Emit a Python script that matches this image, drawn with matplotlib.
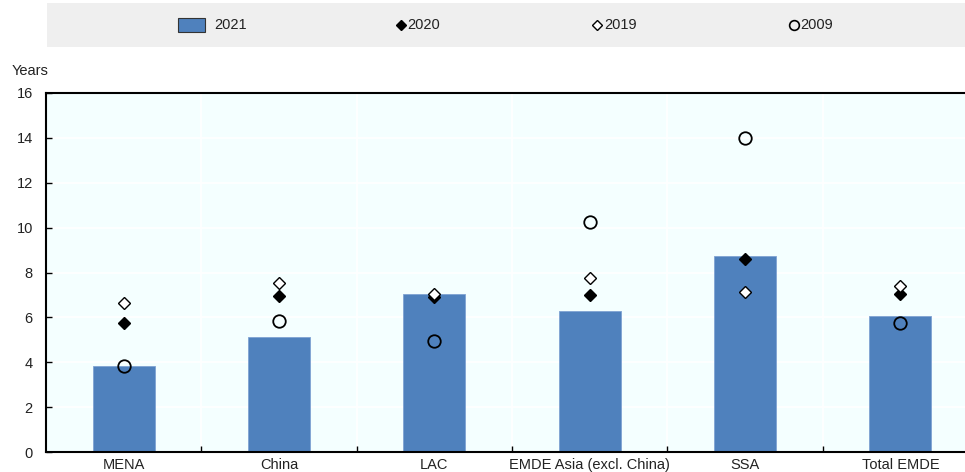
import matplotlib
matplotlib.use("Agg")
import matplotlib.pyplot as plt
from matplotlib.ticker import FixedLocator, NullFormatter

plt.rcParams['font.family'] = ['Liberation Sans', 'DejaVu Sans']

categories = ["MENA", "China", "LAC", "EMDE Asia (excl. China)", "SSA", "Total EMDE"]
y2021 = [3.85, 5.12, 7.04, 6.28, 8.73, 6.06]
y2020 = [5.75, 6.97, 6.90, 7.00, 8.60, 7.02]
y2019 = [6.64, 7.53, 7.04, 7.75, 7.13, 7.40]
y2009 = [3.85, 5.84, 4.95, 10.25, 14.00, 5.75]
yticks = [0, 2, 4, 6, 8, 10, 12, 14, 16]

W, H = 965, 472
fig = plt.figure(figsize=(W / 100, H / 100), dpi=100)

bar_color = "#4F81BD"
bg_color = "#F4FFFF"

# main plot area
left, right, top, bottom = 46, 978, 93, 452
ax = fig.add_axes([left / W, (H - bottom) / H, (right - left) / W, (bottom - top) / H])
ax.set_facecolor(bg_color)
x = list(range(len(categories)))

ax.bar(x, y2021, width=0.4, color=bar_color, edgecolor="#7FA3D3", linewidth=0.6, zorder=2)
ax.plot(x, y2020, linestyle="none", marker="D", ms=6.5, mfc="black", mec="black", mew=1.0, zorder=4)
ax.plot(x, y2019, linestyle="none", marker="D", ms=6.5, mfc="white", mec="black", mew=1.0, zorder=4)
ax.plot(x, y2009, linestyle="none", marker="o", ms=9, mfc="none", mec="black", mew=1.3, zorder=5)

ax.set_xlim(-0.5, len(categories) - 0.5)
ax.set_ylim(0, 16)
ax.set_yticks(yticks)
ax.yaxis.grid(True, color="white", linewidth=1.2, zorder=0)
for b in [i + 0.5 for i in range(len(categories) - 1)]:
    ax.axvline(b, color="white", linewidth=1.2, zorder=0)
ax.set_axisbelow(True)

ax.xaxis.set_major_locator(FixedLocator(x))
ax.set_xticklabels(categories)
ax.xaxis.set_minor_locator(FixedLocator([i + 0.5 for i in range(len(categories) - 1)]))
ax.xaxis.set_minor_formatter(NullFormatter())
ax.tick_params(axis="x", which="major", length=0, pad=4, labelsize=10.5, labelcolor="#222222")
ax.tick_params(axis="x", which="minor", direction="in", length=4, width=1, color="black")
ax.tick_params(axis="y", direction="in", length=4, width=1, pad=9.5, labelsize=10.5, labelcolor="#222222")

for s in ["left", "bottom", "top"]:
    ax.spines[s].set_color("black")
    ax.spines[s].set_linewidth(1.5)
ax.spines["right"].set_visible(False)

fig.text(12 / W, (H - 71) / H, "Years", fontsize=10.5, color="#222222", va="center", ha="left")

# legend band
lax = fig.add_axes([47 / W, (H - 47) / H, (W - 47) / W, 44 / H])
lax.set_facecolor("#EFEFEF")
lax.set_xlim(47, W)
lax.set_ylim(0, 44)
for s in lax.spines.values():
    s.set_visible(False)
lax.set_xticks([])
lax.set_yticks([])
ly = 22
lax.add_patch(plt.Rectangle((178, ly - 7), 27, 14, facecolor=bar_color, edgecolor="#333333", linewidth=0.8))
lax.text(214, ly, "2021", fontsize=10.5, va="center", ha="left", color="#222222")
lax.plot([401], [ly], marker="D", ms=5.5, mfc="black", mec="black", linestyle="none")
lax.text(407, ly, "2020", fontsize=10.5, va="center", ha="left", color="#222222")
lax.plot([597], [ly], marker="D", ms=5.5, mfc="white", mec="black", mew=1.0, linestyle="none")
lax.text(604, ly, "2019", fontsize=10.5, va="center", ha="left", color="#222222")
lax.plot([794], [ly], marker="o", ms=7, mfc="none", mec="black", mew=1.2, linestyle="none")
lax.text(800, ly, "2009", fontsize=10.5, va="center", ha="left", color="#222222")

fig.savefig("out.png", dpi=100)
